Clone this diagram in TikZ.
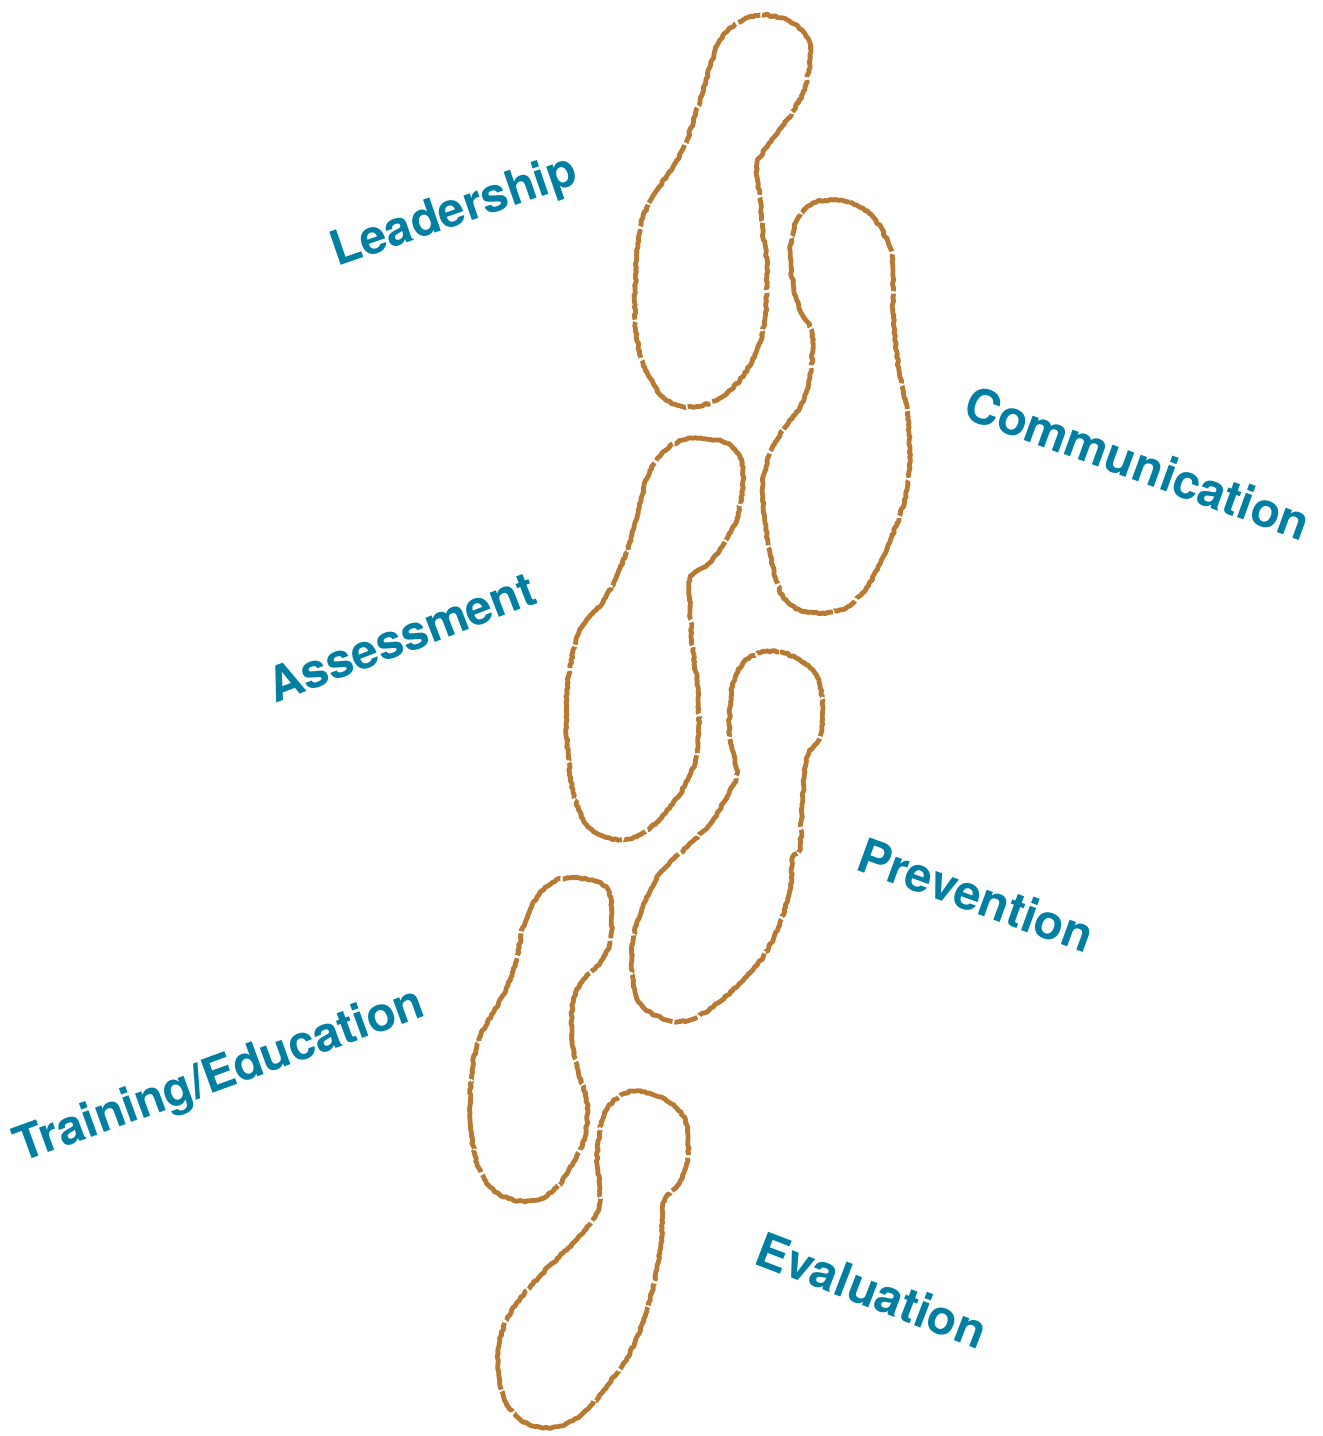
\documentclass[tikz,border=0pt]{standalone}
\usepackage{fontspec}
\setmainfont{TeX Gyre Heros}
\usetikzlibrary{decorations.pathmorphing}
\definecolor{footbrown}{RGB}{184,121,50}
\definecolor{labelblue}{RGB}{0,127,163}
\tikzset{
  foot/.style={draw=footbrown, line width=4.8pt, line join=round, line cap=butt,
    dash pattern=on 70pt off 3pt on 38pt off 2.5pt on 95pt off 3pt on 24pt off 2pt,
    decorate, decoration={random steps, segment length=2.5pt, amplitude=0.9pt}},
  lbl/.style={text=labelblue, font=\fontsize{48}{56}\selectfont\bfseries, inner sep=0pt},
}
\begin{document}
\begin{tikzpicture}[x=1pt, y=-1pt]
\pgfmathsetseed{7}
\useasboundingbox (0,0) rectangle (1323,1436);

% footprint 1 (top)
\draw[foot] plot[smooth cycle, tension=0.55] coordinates {
 (760,15) (787,20) (807,37) (810,60) (803,93) (787,120) (767,147) (757,165)
 (760,200) (763,233) (767,267) (765,317) (757,350) (740,380) (717,400) (687,407)
 (663,397) (643,363) (635,320) (637,253) (643,217) (657,190) (673,167) (687,140)
 (700,100) (710,67) (720,40) (737,23)};

% footprint 2
\draw[foot] plot[smooth cycle, tension=0.55] coordinates {
 (833,200) (850,202) (873,217) (890,247) (893,270) (893,303) (895,337) (900,377)
 (907,410) (910,450) (907,490) (897,523) (883,557) (867,587) (847,607) (823,613)
 (800,610) (783,597) (773,567) (765,523) (763,483) (770,453) (783,430) (800,407)
 (810,377) (812,333) (800,310) (793,283) (790,250) (797,220) (813,203)};

% footprint 3
\draw[foot] plot[smooth cycle, tension=0.55] coordinates {
 (700,438) (727,443) (740,458) (743,482) (737,518) (723,545) (707,565) (690,578)
 (690,608) (693,652) (698,692) (698,748) (690,775) (677,798) (657,822) (633,838)
 (610,838) (587,825) (573,792) (567,742) (567,692) (573,652) (583,625) (603,602)
 (617,575) (627,552) (637,518) (647,478) (663,452) (683,440)};

% footprint 4
\draw[foot] plot[smooth cycle, tension=0.55] coordinates {
 (760,653) (780,652) (800,660) (817,677) (823,707) (820,737) (807,757) (802,807)
 (800,847) (793,857) (790,890) (780,923) (763,957) (740,983) (713,1007) (690,1020)
 (667,1020) (643,1007) (633,983) (633,940) (643,907) (660,873) (687,847) (713,820)
 (730,790) (737,773) (730,740) (730,707) (733,683) (743,663)};

% footprint 5
\draw[foot] plot[smooth cycle, tension=0.55] coordinates {
 (570,878) (593,880) (608,890) (612,913) (610,943) (600,963) (583,980) (573,1003)
 (572,1037) (578,1070) (587,1103) (585,1137) (573,1163) (557,1187) (537,1200)
 (513,1200) (490,1187) (477,1163) (470,1120) (472,1070) (480,1037) (493,1013)
 (507,987) (517,957) (523,927) (537,897) (553,882)};

% footprint 6 (bottom)
\draw[foot] plot[smooth cycle, tension=0.55] coordinates {
 (637,1091) (663,1098) (683,1116) (688,1136) (687,1163) (677,1186) (663,1203)
 (662,1236) (657,1269) (647,1309) (630,1353) (607,1386) (583,1413) (560,1426)
 (533,1426) (513,1413) (500,1386) (498,1349) (507,1319) (520,1299) (540,1276)
 (563,1253) (583,1233) (597,1213) (600,1189) (597,1163) (600,1129) (607,1109)
 (620,1096)};

% labels
\node[lbl, rotate=19]  (leadership)    at (455,213)  {Leadership};
\node[lbl, rotate=-20] (communication) at (1138,463) {Communication};
\node[lbl, rotate=21]  (assessment)    at (401,637)  {Assessment};
\node[lbl, rotate=-20] (prevention)    at (976,895)  {Prevention};
\node[lbl, rotate=20]  (training)      at (220,1077) {Training/Education};
\node[lbl, rotate=-21] (evaluation)    at (872,1290) {Evaluation};
\end{tikzpicture}
\end{document}
